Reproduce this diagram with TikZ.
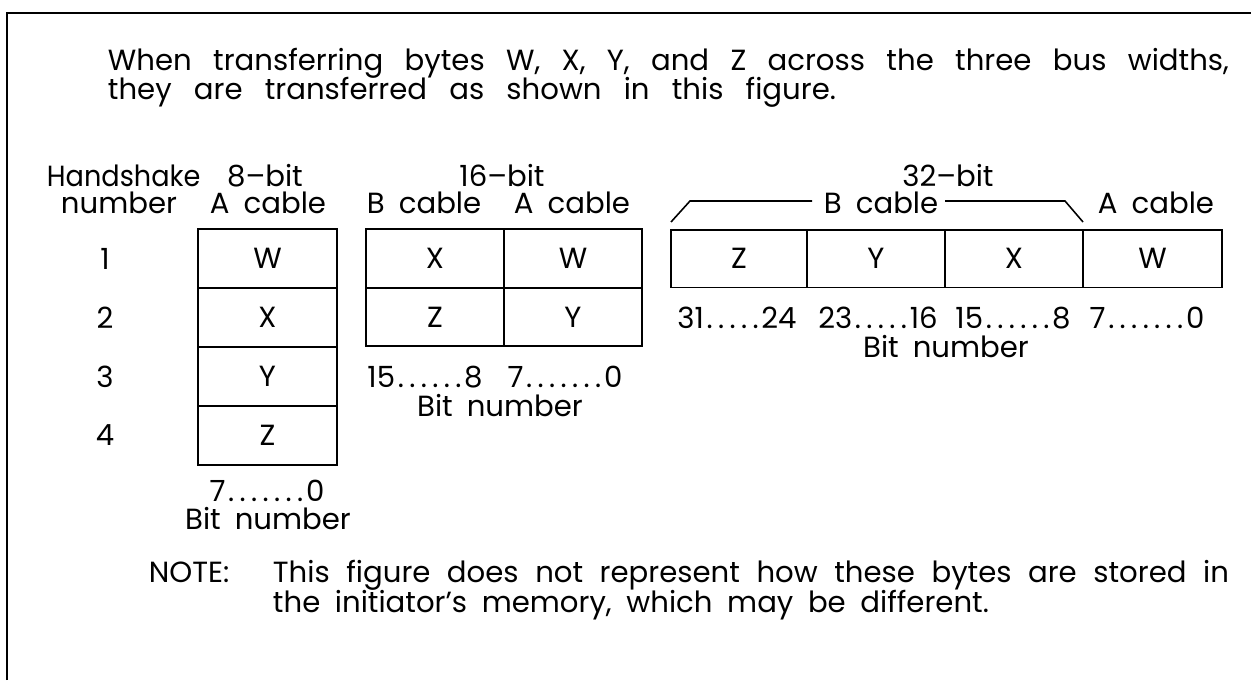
\documentclass[tikz,border=0pt]{standalone}
\usepackage{fontspec}
\usepackage{graphicx}
\setmainfont{Poppins}[WordSpace=1.8]
\newlength\pxu \setlength\pxu{0.02cm}
\newcommand\fs{\fontsize{16.6}{19}\selectfont}
\newcommand\pd{\hbox to 11.5\pxu{\hss.\hss}}
\newcommand\bitdots[1]{\foreach \i in {1,...,#1}{\pd}}
\begin{document}
\begin{tikzpicture}[x=0.02cm,y=-0.02cm,line width=1.1pt,
  txt/.style={inner sep=0pt,font=\fs},
  lt/.style={txt,anchor=base west},
  rt/.style={txt,anchor=base east},
  ct/.style={txt,anchor=base},
  cell/.style={draw,line width=1.1pt,inner sep=0pt,font=\fs,minimum width=138\pxu,minimum height=58.5\pxu}]
\useasboundingbox (0,0) rectangle (1251,680);
% frame (top and left edges)
\coordinate (fl) at (7,680);
\coordinate (fc) at (7,13);
\coordinate (fr) at (1251,13);
\draw (fl) -- (fc) -- (fr);
% intro text
\node[lt] (p1) at (107,70) {\makebox[1121\pxu][s]{When transferring bytes W, X, Y, and Z across the three bus widths,}};
\node[lt] (p2) at (107,99) {\makebox[728\pxu][s]{they are transferred as shown in this figure.}};
% headers
\node[lt] (h1) at (46,186) {\scalebox{0.93}[1]{Handshake}};
\node[lt] (h2) at (60,213) {number};
\node[ct] (e1) at (265,186) {8--bit};
\node[ct] (e2) at (268,213) {A cable};
\node[ct] (s1) at (502,186) {16--bit};
\node[lt] (s2) at (366,213) {B cable};
\node[rt] (s3) at (631,213) {A cable};
\node[ct] (t1) at (948,186) {32--bit};
\node[lt] (tb) at (823,213) {B cable};
\node[lt] (ta) at (1097,213) {A cable};
% bracket
\coordinate (k0) at (671,222);
\coordinate (k1) at (690,201);
\coordinate (k2) at (812,201);
\coordinate (k3) at (945,201);
\coordinate (k4) at (1065,201);
\coordinate (k5) at (1083,222);
\draw[line width=0.9pt] (k0) -- (k1) -- (k2);
\draw[line width=0.9pt] (k3) -- (k4) -- (k5);
% handshake numbers
\node[txt] (n1) at (105,258.5) {1};
\node[txt] (n2) at (105,317.5) {2};
\node[txt] (n3) at (105,376.5) {3};
\node[txt] (n4) at (105,435.5) {4};
% 8-bit column
\node[cell,minimum width=139\pxu,minimum height=59\pxu] (a1) at (267.5,258.5) {W};
\node[cell,minimum width=139\pxu,minimum height=59\pxu] (a2) at (267.5,317.5) {X};
\node[cell,minimum width=139\pxu,minimum height=59\pxu] (a3) at (267.5,376.5) {Y};
\node[cell,minimum width=139\pxu,minimum height=59\pxu] (a4) at (267.5,435.5) {Z};
\node[ct] (ab) at (267,501) {7\bitdots{7}0};
\node[ct] (an) at (268,529) {Bit number};
% 16-bit
\node[cell] (b11) at (435,258.5) {X};
\node[cell] (b12) at (573,258.5) {W};
\node[cell] (b21) at (435,317) {Z};
\node[cell] (b22) at (573,317) {Y};
\node[ct] (bb1) at (425,387) {15\bitdots{6}8};
\node[ct] (bb2) at (565,387) {7\bitdots{7}0};
\node[ct] (bn) at (500,416) {Bit number};
% 32-bit
\node[cell,minimum width=136\pxu,minimum height=57.5\pxu] (c1) at (739,258.75) {Z};
\node[cell,minimum width=138\pxu,minimum height=57.5\pxu] (c2) at (876,258.75) {Y};
\node[cell,minimum width=138\pxu,minimum height=57.5\pxu] (c3) at (1014,258.75) {X};
\node[cell,minimum width=139\pxu,minimum height=57.5\pxu] (c4) at (1152.5,258.75) {W};
\node[ct] (cb1) at (737,328) {31\bitdots{5}24};
\node[ct] (cb2) at (878,328) {23\bitdots{5}16};
\node[ct] (cb3) at (1013,328) {15\bitdots{6}8};
\node[ct] (cb4) at (1147,328) {7\bitdots{7}0};
\node[ct] (cn) at (946,357) {Bit number};
% note
\node[lt] (nt) at (148,582) {NOTE:};
\node[lt] (nl1) at (272,582) {\makebox[956\pxu][s]{This figure does not represent how these bytes are stored in}};
\node[lt] (nl2) at (272,612) {\makebox[716\pxu][s]{the initiator's memory, which may be different.}};
\end{tikzpicture}
\end{document}
